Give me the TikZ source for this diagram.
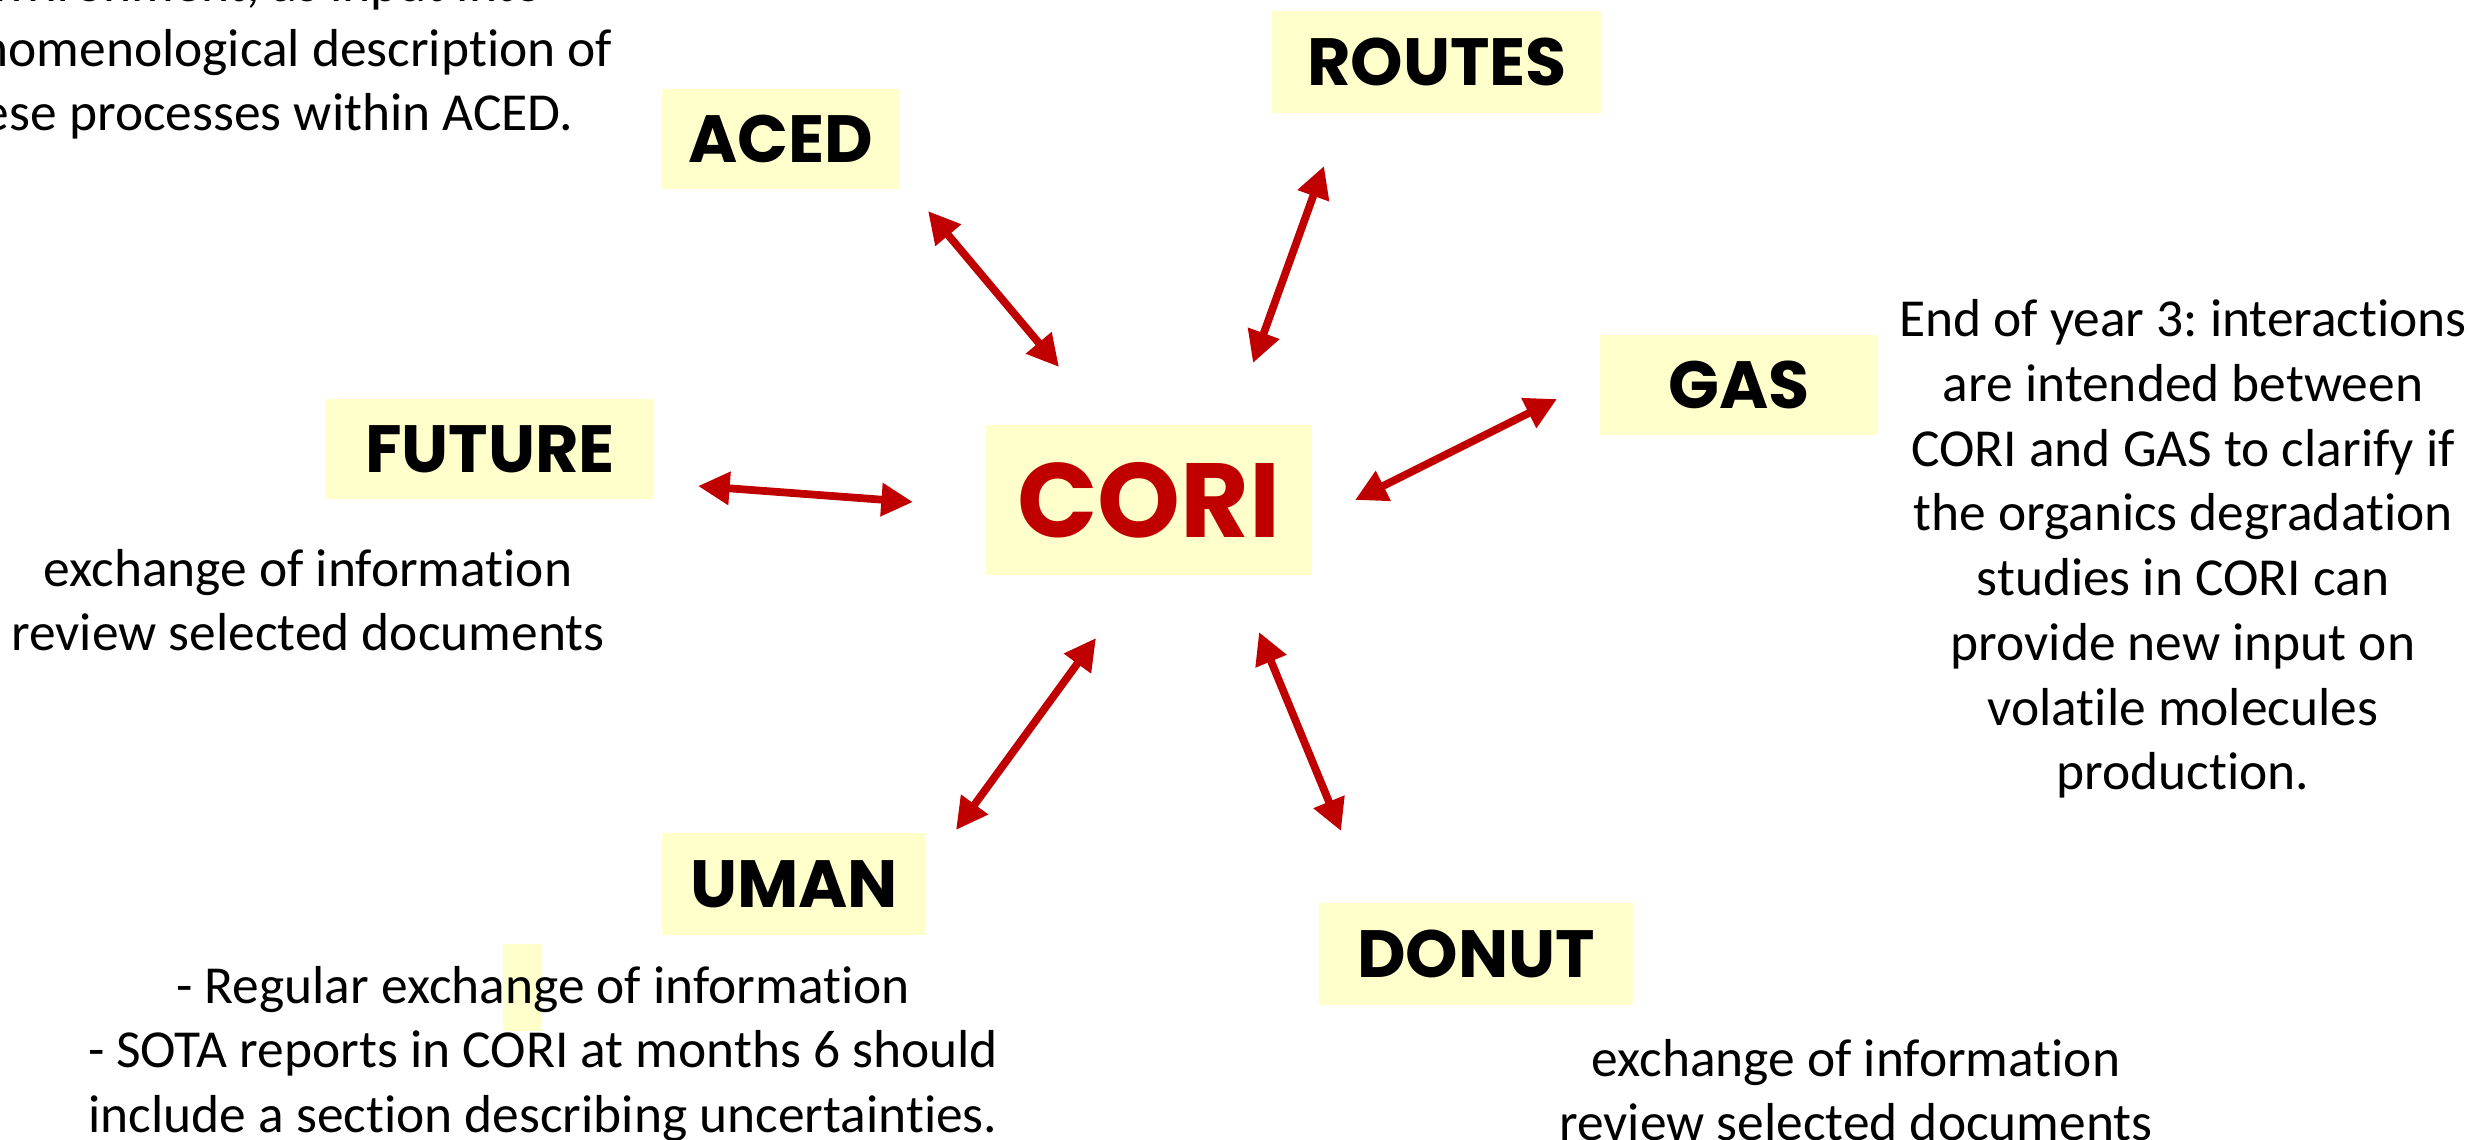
\documentclass[tikz,border=0pt]{standalone}
\usepackage{fontspec}
\setmainfont{Carlito}[Ligatures=NoCommon]
\newfontfamily\labelfont{Poppins}
\usetikzlibrary{arrows.meta}
\definecolor{boxyellow}{HTML}{FFFFCC}
\definecolor{corired}{HTML}{C00000}
\tikzset{
  wp/.style={fill=boxyellow, inner sep=0pt, font=\labelfont\bfseries\fontsize{19}{22}\selectfont},
  note/.style={align=center, inner sep=0pt, font=\fontsize{15.2}{18.4}\selectfont},
  link/.style={corired, line width=2.2pt, {Triangle[width=9pt,length=9pt]}-{Triangle[width=9pt,length=9pt]}}
}
\frenchspacing
\begin{document}
\begin{tikzpicture}[x=0.01cm, y=-0.01cm]
\clip (0,0) rectangle (2483,1139);
% work packages
\node[wp, minimum width=3.26cm, minimum height=1.49cm, text=corired,
      font=\labelfont\bfseries\fontsize{30}{34}\selectfont] (cori) at (1149,500) {CORI};
\node[wp, minimum width=3.30cm, minimum height=1.01cm] (routes) at (1437,62) {ROUTES};
\node[wp, minimum width=2.38cm, minimum height=1.00cm] (aced) at (781,139) {ACED};
\node[wp, minimum width=2.77cm, minimum height=1.00cm] (gas) at (1739,385) {GAS};
\node[wp, minimum width=3.27cm, minimum height=1.00cm] (future) at (490,449) {FUTURE};
\node[wp, minimum width=2.64cm, minimum height=1.01cm] (uman) at (794,884) {UMAN};
\node[wp, minimum width=3.13cm, minimum height=1.01cm] (donut) at (1476,954) {DONUT};
% arrow ends
\coordinate (a-aced) at (928,211);   \coordinate (c-aced) at (1059,367);
\coordinate (a-routes) at (1324,166); \coordinate (c-routes) at (1253,363);
\coordinate (a-gas) at (1557,399);   \coordinate (c-gas) at (1355,500);
\coordinate (a-future) at (698,486); \coordinate (c-future) at (913,502);
\coordinate (a-uman) at (956,830);   \coordinate (c-uman) at (1096,638);
\coordinate (a-donut) at (1341,831); \coordinate (c-donut) at (1259,632);
\foreach \w in {aced,routes,gas,future,uman,donut}
  \draw[link] (a-\w)--(c-\w);
% notes
\fill[boxyellow] (503,944) rectangle (542,1031);
\node[note] (aced-note) at (255,52) {environment, as input into\\phenomenological description of\\these processes within ACED.};
\node[note] (future-note) at (308,600) {exchange of information\\review selected documents};
\node[note] (gas-note) at (2183,549) {End of year 3: interactions\\are intended between\\CORI and GAS to clarify if\\the organics degradation\\studies in CORI can\\provide new input on\\volatile molecules\\production.};
\node[note] (uman-note) at (543,1054) {- Regular exchange of information\\- SOTA reports in CORI at months 6 should\\include a section describing uncertainties.};
\node[note] (donut-note) at (1856,1090) {exchange of information\\review selected documents};
\end{tikzpicture}
\end{document}
